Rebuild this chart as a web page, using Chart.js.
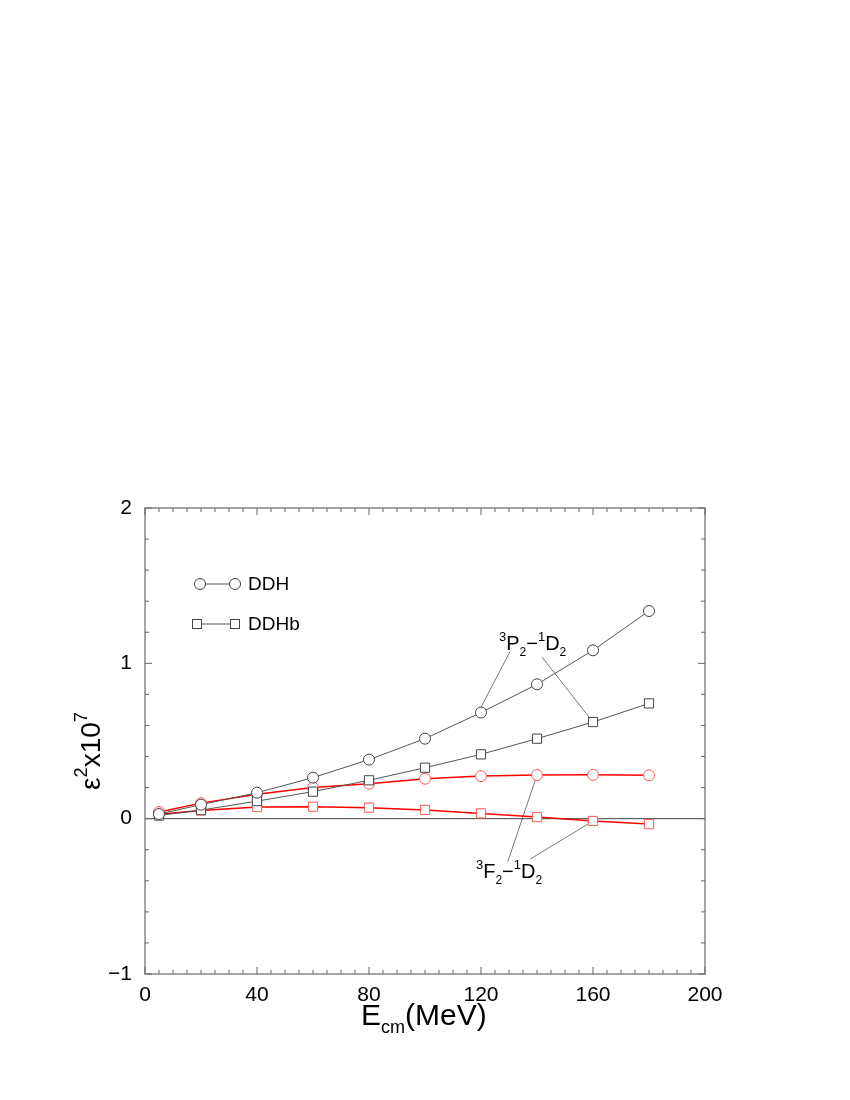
<!DOCTYPE html>
<html>
<head>
<meta charset="utf-8">
<script src="https://cdn.jsdelivr.net/npm/chart.js@4"></script>
<style>
  body { margin: 0; background: #fff; }
  #wrap { width: 850px; height: 1100px; }
</style>
</head>
<body>
<div id="wrap"><canvas id="grafica"></canvas></div>
<script>
// datos
const energias = [5, 20, 40, 60, 80, 100, 120, 140, 160, 180];
const ddhP = [0.03, 0.09, 0.167, 0.264, 0.38, 0.515, 0.683, 0.865, 1.084, 1.337];
const ddhbP = [0.02, 0.055, 0.113, 0.174, 0.247, 0.328, 0.414, 0.515, 0.622, 0.742];
const ddhF = [0.043, 0.1, 0.157, 0.2, 0.225, 0.257, 0.274, 0.281, 0.282, 0.279];
const ddhbF = [0.028, 0.053, 0.075, 0.077, 0.071, 0.056, 0.034, 0.01, -0.015, -0.035];
const ticksX = [0, 40, 80, 120, 160, 200];
const ticksY = [-1, 0, 1, 2];

// lineas de las etiquetas (en unidades de los ejes)
const guias = [
    [130.4, 1.077, 119.5, 0.70],
    [141.8, 1.04, 160, 0.622],
    [129.6, -0.275, 140, 0.281],
    [137.5, -0.261, 160, -0.015]
];

const fuente = '"Liberation Sans", Arial, sans-serif';

function puntos(ys) {
    return energias.map((x, i) => ({ x: x, y: ys[i] }));
}

// dibuja texto con super y subindices
function textoCompuesto(ctx, partes, x, y, size) {
    ctx.textBaseline = 'alphabetic';
    ctx.textAlign = 'left';
    partes.forEach(p => {
        let s = size, dy = 0;
        if (p[1] === 'sup') { s = size * 0.65; dy = -size * 0.45; }
        if (p[1] === 'sub') { s = size * 0.6; dy = size * 0.28; }
        ctx.font = s + 'px ' + fuente;
        ctx.fillText(p[0], x, y + dy);
        x += ctx.measureText(p[0]).width;
    });
    return x;
}

function anchoCompuesto(ctx, partes, size) {
    let w = 0;
    partes.forEach(p => {
        const s = p[1] === 'sup' ? size * 0.65 : (p[1] === 'sub' ? size * 0.6 : size);
        ctx.font = s + 'px ' + fuente;
        w += ctx.measureText(p[0]).width;
    });
    return w;
}

const extras = {
    id: 'extras',
    beforeDatasetsDraw(chart) {
        const ctx = chart.ctx;
        const sx = chart.scales.x, sy = chart.scales.y;
        ctx.save();
        // linea en cero
        ctx.strokeStyle = '#444';
        ctx.lineWidth = 1;
        ctx.beginPath();
        ctx.moveTo(sx.getPixelForValue(0), sy.getPixelForValue(0));
        ctx.lineTo(sx.getPixelForValue(200), sy.getPixelForValue(0));
        ctx.stroke();
        // guias
        ctx.strokeStyle = '#555';
        ctx.lineWidth = 0.8;
        guias.forEach(g => {
            ctx.beginPath();
            ctx.moveTo(sx.getPixelForValue(g[0]), sy.getPixelForValue(g[1]));
            ctx.lineTo(sx.getPixelForValue(g[2]), sy.getPixelForValue(g[3]));
            ctx.stroke();
        });
        ctx.restore();
    },
    afterDraw(chart) {
        const ctx = chart.ctx;
        const a = chart.chartArea;
        const sx = chart.scales.x, sy = chart.scales.y;
        ctx.save();
        // marco
        ctx.strokeStyle = '#888';
        ctx.lineWidth = 1.5;
        ctx.strokeRect(a.left, a.top, a.right - a.left, a.bottom - a.top);
        // marcas hacia dentro
        ctx.strokeStyle = '#666';
        ctx.lineWidth = 1;
        ctx.beginPath();
        for (let v = 0; v <= 200; v += 5) {
            const px = sx.getPixelForValue(v);
            const l = v % 40 === 0 ? 7 : 4;
            ctx.moveTo(px, a.bottom); ctx.lineTo(px, a.bottom - l);
            ctx.moveTo(px, a.top); ctx.lineTo(px, a.top + l);
        }
        for (let k = -5; k <= 10; k++) {
            const py = sy.getPixelForValue(k * 0.2);
            const l = k % 5 === 0 ? 7 : 4;
            ctx.moveTo(a.left, py); ctx.lineTo(a.left + l, py);
            ctx.moveTo(a.right, py); ctx.lineTo(a.right - l, py);
        }
        ctx.stroke();

        ctx.fillStyle = '#000';
        // titulo eje x
        textoCompuesto(ctx, [['E', null], ['cm', 'sub'], ['(MeV)', null]], 361, 1025, 30);
        // titulo eje y
        const ty = [['\u03b5', null], ['2', 'sup'], ['x10', null], ['7', 'sup']];
        ctx.save();
        ctx.translate(100, 751);
        ctx.rotate(-Math.PI / 2);
        const wy = anchoCompuesto(ctx, ty, 28);
        textoCompuesto(ctx, ty, -wy / 2, 0, 28);
        ctx.restore();

        // leyenda
        ctx.strokeStyle = '#555';
        ctx.lineWidth = 1;
        ctx.beginPath();
        ctx.moveTo(200, 584); ctx.lineTo(235, 584);
        ctx.moveTo(197, 624); ctx.lineTo(235, 624);
        ctx.stroke();
        ctx.fillStyle = '#fff';
        ctx.strokeStyle = '#444';
        [200, 235].forEach(x => {
            ctx.beginPath(); ctx.arc(x, 584, 5.5, 0, Math.PI * 2); ctx.fill(); ctx.stroke();
        });
        [197, 235].forEach(x => {
            ctx.fillRect(x - 4.5, 619.5, 9, 9); ctx.strokeRect(x - 4.5, 619.5, 9, 9);
        });
        ctx.fillStyle = '#000';
        ctx.font = '19px ' + fuente;
        ctx.textBaseline = 'middle';
        ctx.fillText('DDH', 248, 585);
        ctx.fillText('DDHb', 248, 625);

        // etiquetas de las ondas
        textoCompuesto(ctx, [['3', 'sup'], ['P', null], ['2', 'sub'], ['\u2212', null], ['1', 'sup'], ['D', null], ['2', 'sub']], 499, 650, 20);
        textoCompuesto(ctx, [['3', 'sup'], ['F', null], ['2', 'sub'], ['\u2212', null], ['1', 'sup'], ['D', null], ['2', 'sub']], 476, 878, 20);
        ctx.restore();
    }
};

const negro = '#555';
const rojo = '#ff0000';
const rojoClaro = '#ff5a5a';

new Chart(document.getElementById('grafica'), {
    type: 'line',
    data: {
        datasets: [{
            label: 'DDH 3P2-1D2',
            data: puntos(ddhP),
            borderColor: negro,
            borderWidth: 1,
            pointStyle: 'circle',
            pointRadius: 5.5,
            pointBorderColor: '#444',
            pointBackgroundColor: '#fff',
            pointBorderWidth: 1
        }, {
            label: 'DDHb 3P2-1D2',
            data: puntos(ddhbP),
            borderColor: negro,
            borderWidth: 1,
            pointStyle: 'rect',
            pointRadius: 6.5,
            pointBorderColor: '#444',
            pointBackgroundColor: '#fff',
            pointBorderWidth: 1
        }, {
            label: 'DDH 3F2-1D2',
            data: puntos(ddhF),
            borderColor: rojo,
            borderWidth: 1.5,
            pointStyle: 'circle',
            pointRadius: 5.5,
            pointBorderColor: rojoClaro,
            pointBackgroundColor: '#fff',
            pointBorderWidth: 1
        }, {
            label: 'DDHb 3F2-1D2',
            data: puntos(ddhbF),
            borderColor: rojo,
            borderWidth: 1.5,
            pointStyle: 'rect',
            pointRadius: 6.5,
            pointBorderColor: rojoClaro,
            pointBackgroundColor: '#fff',
            pointBorderWidth: 1
        }]
    },
    options: {
        responsive: true,
        maintainAspectRatio: false,
        animation: false,
        layout: {
            padding: { top: 508, right: 145, left: 0, bottom: 0 }
        },
        plugins: {
            legend: { display: false },
            tooltip: { enabled: false }
        },
        scales: {
            x: {
                type: 'linear',
                min: 0,
                max: 200,
                afterBuildTicks: s => { s.ticks = ticksX.map(v => ({ value: v })); },
                afterFit: s => { s.height = 126; },
                grid: { display: false, drawTicks: false },
                border: { display: false },
                ticks: {
                    color: '#000',
                    padding: 9,
                    font: { family: fuente, size: 21 }
                }
            },
            y: {
                min: -1,
                max: 2,
                afterBuildTicks: s => { s.ticks = ticksY.map(v => ({ value: v })); },
                afterFit: s => { s.width = 145; },
                grid: { display: false, drawTicks: false },
                border: { display: false },
                ticks: {
                    color: '#000',
                    padding: 13,
                    font: { family: fuente, size: 21 },
                    callback: v => v < 0 ? '\u2212' + Math.abs(v) : String(v)
                }
            }
        }
    },
    plugins: [extras]
});
</script>
</body>
</html>
